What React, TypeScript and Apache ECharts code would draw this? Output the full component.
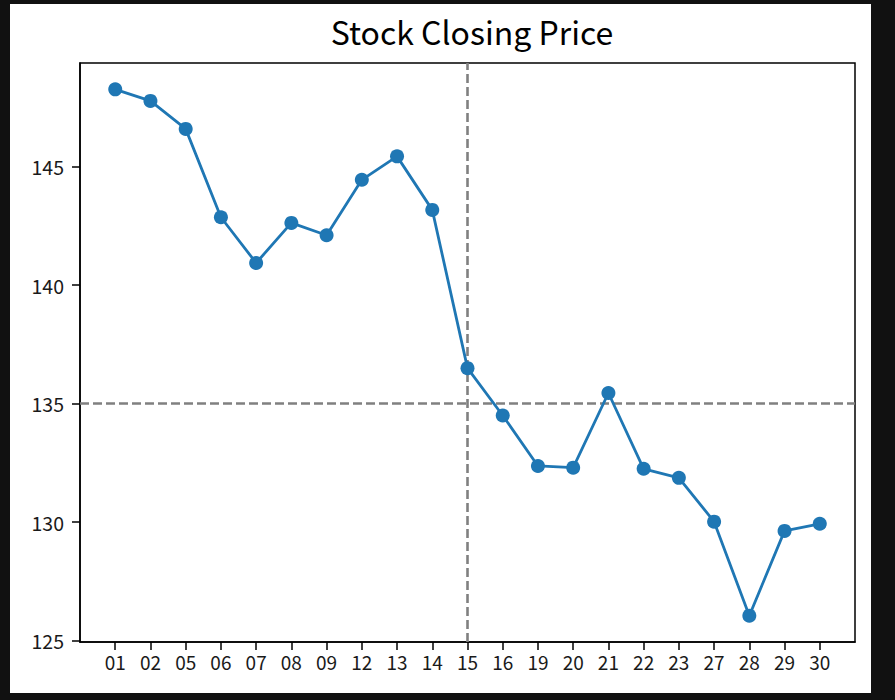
import React, { useEffect, useRef } from "react";
import * as echarts from "echarts";

const dates: string[] = ["01", "02", "05", "06", "07", "08", "09", "12", "13", "14", "15", "16", "19", "20", "21", "22", "23", "27", "28", "29", "30"];
const closing: number[] = [148.27, 147.78, 146.6, 142.87, 140.94, 142.63, 142.11, 144.45, 145.44, 143.18, 136.5, 134.5, 132.37, 132.3, 135.45, 132.25, 131.87, 130.02, 126.05, 129.63, 129.93];
const yTicks: number[] = [125, 130, 135, 140, 145];
const refPrice = 135;
const refDateIndex = 10; // "15"
const titleText = "Stock Closing Price";

const FONT = "'Noto Sans CJK KR', 'Noto Sans', sans-serif";

export default function App() {
  const ref = useRef<HTMLDivElement>(null);
  useEffect(() => {
    if (!ref.current) return;
    const chart = echarts.init(ref.current, null, { renderer: "svg" });
    const n = dates.length;
    const ymin = Math.min(...closing);
    const ymax = Math.max(...closing);
    const span = ymax - ymin;
    const xIdx = dates.map((_, i) => i);
    chart.setOption({
      animation: false,
      backgroundColor: "#111111",
      graphic: [
        { type: "rect", shape: { x: 10, y: 4, width: 861, height: 689 }, style: { fill: "#ffffff" }, z: -10 },
      ],
      title: {
        text: titleText,
        left: 467,
        textAlign: "center",
        top: 10,
        textStyle: { fontFamily: FONT, fontSize: 32, fontWeight: "normal", color: "#000" },
      },
      grid: {
        left: 80, right: 40, top: 63, bottom: 58,
        show: true, borderColor: "#000", borderWidth: 1.5, backgroundColor: "transparent",
      },
      xAxis: {
        type: "value",
        min: -1,
        max: n,
        interval: 1,
        splitLine: { show: false },
        axisLine: { show: true, onZero: false, lineStyle: { color: "#000", width: 1.5 } },
        axisTick: { show: true, length: 8, lineStyle: { color: "#000", width: 1.5 }, customValues: xIdx },
        axisLabel: {
          customValues: xIdx,
          margin: 10,
          fontFamily: FONT, fontSize: 19, color: "#1a1a1a",
          formatter: (v: number) => dates[Math.round(v)] ?? "",
        },
      },
      yAxis: {
        type: "value",
        min: ymin - span * 0.05,
        max: ymax + span * 0.05,
        splitLine: { show: false },
        axisLine: { show: true, onZero: false, lineStyle: { color: "#000", width: 1.5 } },
        axisTick: { show: true, length: 8, lineStyle: { color: "#000", width: 1.5 }, customValues: yTicks },
        axisLabel: {
          customValues: yTicks,
          margin: 16,
          fontFamily: FONT, fontSize: 19.5, color: "#1a1a1a",
        },
      },
      series: [
        {
          type: "line",
          data: closing.map((v, i) => [i, v]),
          symbol: "circle",
          symbolSize: 14,
          itemStyle: { color: "#1f77b4" },
          lineStyle: { color: "#1f77b4", width: 2.8 },
          z: 3,
          markLine: {
            silent: true,
            symbol: "none",
            label: { show: false },
            lineStyle: { color: "#808080", width: 2.6, type: [9, 4] },
            data: [{ yAxis: refPrice }, { xAxis: refDateIndex }],
            z: 1,
          },
        },
      ],
    });
    return () => chart.dispose();
  }, []);
  return <div ref={ref} style={{ position: "fixed", left: 0, top: 0, width: 895, height: 700 }} />;
}
